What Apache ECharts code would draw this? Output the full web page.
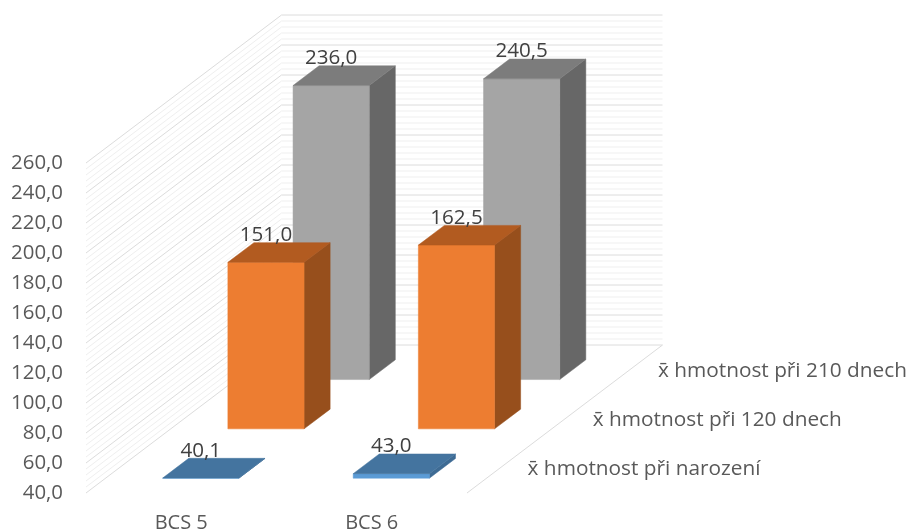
<!DOCTYPE html>
<html>
<head>
<meta charset="utf-8">
<title>Hmotnost telat podle BCS</title>
<style>
  html, body { margin: 0; padding: 0; background: #fff; }
  #chart { width: 910px; height: 530px; }
</style>
<script src="https://cdn.jsdelivr.net/npm/echarts@6/dist/echarts.min.js"></script>
</head>
<body>
<div id="chart"></div>
<script>
// Mean calf weights by BCS group
const categories = ['BCS 5', 'BCS 6'];
const depthNames = ['x\u0304 hmotnost při narození', 'x\u0304 hmotnost při 120 dnech', 'x\u0304 hmotnost při 210 dnech'];
const birthWeights = [40.1, 43.0];
const weights120 = [151.0, 162.5];
const weights210 = [236.0, 240.5];

const axisMin = 40;
const axisMax = 260;
const majorStep = 20;
const minorStep = 4;

// Oblique projection: one depth slot moves a point right and up by this much
const depthX = 65.17;
const depthY = -49.33;
const depthSlots = depthNames.length;
const barInset = 0.3;   // share of a slot left empty on each side of a bar

const FAMILY = '"Open Sans", sans-serif';
const TEXT_GREY = '#595959';
const LABEL_GREY = '#404040';

const palette = {
  blue:   { front: '#5B9BD5', top: '#44749F', side: '#3E6B94' },
  orange: { front: '#ED7D31', top: '#B25B20', side: '#974F1C' },
  grey:   { front: '#A5A5A5', top: '#7C7C7C', side: '#676767' }
};

const fmt = v => v.toFixed(1).replace('.', ',');
const poly = (points, color) => ({
  type: 'polygon',
  shape: { points },
  style: { fill: color, stroke: color, lineWidth: 0.5 },
  silent: true
});

// Wall gridlines: run along the side wall, then across the back wall
const gridValues = [];
for (let v = axisMin; v <= axisMax; v += minorStep) gridValues.push(v);

function renderGridline(params, api) {
  const value = api.value(0);
  const band = api.size([1, 0])[0];
  const anchor = api.coord([0, value]);
  const x0 = anchor[0] - band / 2;
  const y0 = anchor[1];
  const bx = x0 + depthX * depthSlots;
  const by = y0 + depthY * depthSlots;
  const major = (value - axisMin) % majorStep === 0;
  return {
    type: 'polyline',
    shape: { points: [[x0, y0], [bx, by], [bx + band * categories.length, by]] },
    style: { fill: 'none', stroke: major ? '#DCDCDC' : '#EFEFEF', lineWidth: 1 },
    silent: true
  };
}

// Floor edge on the right, with the depth-axis names beside it
function renderDepthName(params, api) {
  const i = api.value(0);
  const band = api.size([1, 0])[0];
  const corner = api.coord([categories.length - 1, axisMin]);
  const fx = corner[0] + band / 2;
  const fy = corner[1];
  const children = [{
    type: 'text',
    style: {
      text: depthNames[i],
      x: fx + depthX * (i + 0.5) + 28,
      y: fy + depthY * (i + 0.5) + 1,
      align: 'left',
      verticalAlign: 'middle',
      font: '20.8px ' + FAMILY,
      fill: TEXT_GREY
    },
    silent: true
  }];
  if (i === 0) {
    children.push({
      type: 'line',
      shape: { x1: fx, y1: fy, x2: fx + depthX * depthSlots, y2: fy + depthY * depthSlots },
      style: { stroke: '#DCDCDC', lineWidth: 1 },
      silent: true
    });
  }
  return { type: 'group', children };
}

// One box per category, sitting in the given depth slot
function boxRenderer(slot, colors) {
  return function (params, api) {
    const cat = api.value(0);
    const value = api.value(1);
    const band = api.size([1, 0])[0];
    const base = api.coord([cat, axisMin]);
    const top = api.coord([cat, value]);
    const halfWidth = band * 0.2;
    const d0 = slot + barInset;
    const d1 = slot + 1 - barInset;
    const shiftX = depthX * d0;
    const shiftY = depthY * d0;
    const dx = depthX * (d1 - d0);
    const dy = depthY * (d1 - d0);
    const l = base[0] - halfWidth + shiftX;
    const r = base[0] + halfWidth + shiftX;
    const b = base[1] + shiftY;
    const t = top[1] + shiftY;
    return {
      type: 'group',
      children: [
        poly([[r, b], [r + dx, b + dy], [r + dx, t + dy], [r, t]], colors.side),
        poly([[l, b], [r, b], [r, t], [l, t]], colors.front),
        poly([[l, t], [r, t], [r + dx, t + dy], [l + dx, t + dy]], colors.top),
        {
          type: 'text',
          style: {
            text: fmt(value),
            x: (l + r) / 2,
            y: t + dy + 3,
            align: 'center',
            verticalAlign: 'bottom',
            font: '20.6px ' + FAMILY,
            fill: LABEL_GREY
          },
          silent: true
        }
      ]
    };
  };
}

const pairs = values => values.map((v, i) => [i, v]);

const chart = echarts.init(document.getElementById('chart'), null, { renderer: 'canvas' });
chart.setOption({
  animation: false,
  backgroundColor: '#ffffff',
  grid: { left: 86, top: 163, width: 381, height: 330, outerBoundsMode: 'none' },
  xAxis: {
    type: 'category',
    data: categories,
    axisLine: { show: false },
    axisTick: { show: false },
    splitLine: { show: false },
    axisLabel: { margin: 20, fontFamily: FAMILY, fontSize: 20, color: TEXT_GREY }
  },
  yAxis: {
    type: 'value',
    min: axisMin,
    max: axisMax,
    interval: majorStep,
    axisLine: { show: false },
    axisTick: { show: false },
    splitLine: { show: false },
    axisLabel: { margin: 23, fontFamily: FAMILY, fontSize: 20.4, color: TEXT_GREY, padding: [3, 0, 0, 0], formatter: fmt }
  },
  series: [
    { type: 'custom', silent: true, clip: false, encode: { y: 0 }, data: gridValues.map(v => [v]), renderItem: renderGridline },
    { type: 'custom', silent: true, clip: false, data: depthNames.map((n, i) => [i]), renderItem: renderDepthName },
    { type: 'custom', silent: true, clip: false, encode: { x: 0, y: 1 }, data: pairs(weights210), renderItem: boxRenderer(2, palette.grey) },
    { type: 'custom', silent: true, clip: false, encode: { x: 0, y: 1 }, data: pairs(weights120), renderItem: boxRenderer(1, palette.orange) },
    { type: 'custom', silent: true, clip: false, encode: { x: 0, y: 1 }, data: pairs(birthWeights), renderItem: boxRenderer(0, palette.blue) }
  ]
});
</script>
</body>
</html>
